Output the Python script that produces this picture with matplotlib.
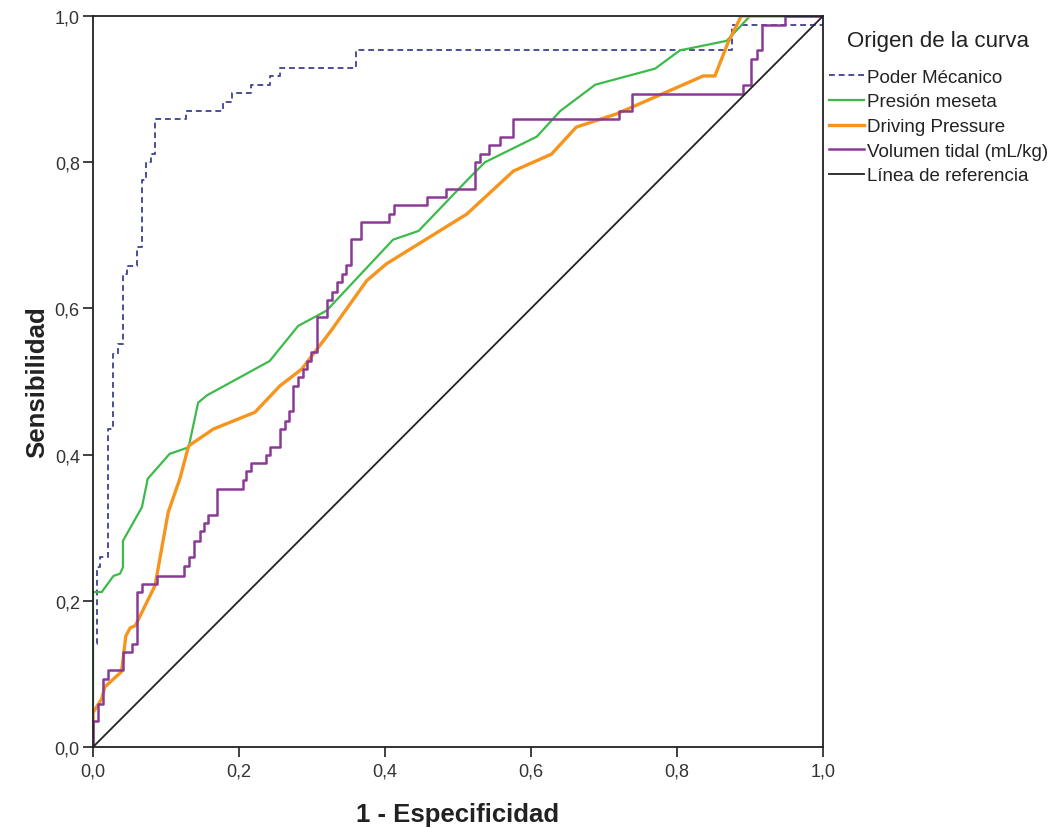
import matplotlib
matplotlib.use("Agg")
import matplotlib.pyplot as plt

plt.rcParams['font.family'] = ['Liberation Sans', 'DejaVu Sans']

# curve points (1 - especificidad, sensibilidad)
poder_x = [0, 0, 0.005, 0.005, 0.009, 0.009, 0.021, 0.021, 0.028, 0.028, 0.034, 0.034, 0.041, 0.041,
           0.046, 0.046, 0.060, 0.060, 0.067, 0.067, 0.073, 0.073, 0.080, 0.080, 0.085, 0.085, 0.127,
           0.127, 0.178, 0.178, 0.191, 0.191, 0.217, 0.217, 0.242, 0.242, 0.256, 0.256, 0.360, 0.360,
           0.875, 0.875, 1.0, 1.0]
poder_y = [0, 0.141, 0.141, 0.246, 0.246, 0.260, 0.260, 0.435, 0.435, 0.538, 0.538, 0.551, 0.551, 0.647,
           0.647, 0.658, 0.658, 0.684, 0.684, 0.775, 0.775, 0.800, 0.800, 0.811, 0.811, 0.859, 0.859,
           0.870, 0.870, 0.883, 0.883, 0.894, 0.894, 0.906, 0.906, 0.918, 0.918, 0.929, 0.929, 0.953,
           0.953, 0.988, 0.988, 1.0]

meseta_x = [0, 0, 0.012, 0.028, 0.037, 0.041, 0.041, 0.067, 0.075, 0.105, 0.131, 0.144, 0.156, 0.242,
            0.281, 0.320, 0.411, 0.446, 0.516, 0.537, 0.608, 0.640, 0.688, 0.770, 0.804, 0.868, 0.900, 1.0]
meseta_y = [0, 0.212, 0.212, 0.234, 0.237, 0.246, 0.282, 0.328, 0.367, 0.401, 0.410, 0.471, 0.481, 0.528,
            0.576, 0.597, 0.694, 0.706, 0.779, 0.800, 0.835, 0.870, 0.906, 0.928, 0.953, 0.966, 1.0, 1.0]

driving_x = [0, 0, 0.012, 0.016, 0.039, 0.045, 0.051, 0.058, 0.085, 0.103, 0.119, 0.131, 0.165, 0.222,
             0.256, 0.286, 0.325, 0.375, 0.402, 0.512, 0.576, 0.628, 0.662, 0.717, 0.836, 0.852, 0.870,
             0.888, 1.0]
driving_y = [0, 0.047, 0.066, 0.082, 0.103, 0.152, 0.163, 0.166, 0.221, 0.321, 0.367, 0.412, 0.435, 0.458,
             0.494, 0.517, 0.568, 0.638, 0.661, 0.729, 0.788, 0.811, 0.848, 0.866, 0.918, 0.918, 0.964,
             1.0, 1.0]

# volumen tidal: staircase corners (x where a step up happens, new level)
vt_steps_x = [0, 0.007, 0.014, 0.021, 0.041, 0.053, 0.060, 0.067, 0.087, 0.125, 0.132, 0.139, 0.146,
              0.152, 0.158, 0.170, 0.205, 0.210, 0.217, 0.237, 0.243, 0.256, 0.263, 0.269, 0.274, 0.281,
              0.287, 0.293, 0.299, 0.307, 0.320, 0.327, 0.334, 0.341, 0.347, 0.353, 0.367, 0.406, 0.413,
              0.458, 0.484, 0.523, 0.530, 0.543, 0.557, 0.576, 0.720, 0.739, 0.890, 0.902, 0.909, 0.916,
              0.948]
vt_steps_y = [0.036, 0.059, 0.093, 0.105, 0.130, 0.141, 0.212, 0.223, 0.234, 0.247, 0.260, 0.282, 0.295,
              0.306, 0.318, 0.353, 0.365, 0.377, 0.388, 0.400, 0.411, 0.435, 0.446, 0.459, 0.494, 0.506,
              0.517, 0.528, 0.541, 0.588, 0.611, 0.623, 0.636, 0.647, 0.660, 0.695, 0.718, 0.729, 0.741,
              0.753, 0.764, 0.800, 0.811, 0.823, 0.835, 0.859, 0.870, 0.893, 0.906, 0.941, 0.953, 0.988,
              1.0]

ticks = [0, 0.2, 0.4, 0.6, 0.8, 1.0]
tick_labels = ['0,0', '0,2', '0,4', '0,6', '0,8', '1,0']


def staircase(xs, ys):
    px, py = [0], [0]
    for x, y in zip(xs, ys):
        px += [x, x]
        py += [py[-1], y]
    px.append(1.0)
    py.append(py[-1])
    return px, py


fig = plt.figure(figsize=(10.58, 8.29), dpi=100)
ax = fig.add_axes([0.0879, 0.0977, 0.690, 0.8818])

vt_x, vt_y = staircase(vt_steps_x, vt_steps_y)

ax.plot(poder_x, poder_y, color='#4a4f9a', lw=1.4, ls=(0, (3, 2)), label='Poder Mécanico')
ax.plot(meseta_x, meseta_y, color='#3cba4a', lw=1.6, label='Presión meseta')
ax.plot(driving_x, driving_y, color='#f7941d', lw=2.4, label='Driving Pressure')
ax.plot(vt_x, vt_y, color='#8a3a95', lw=1.8, label='Volumen tidal (mL/kg)')
ax.plot([0, 1], [0, 1], color='#222222', lw=1.3, label='Línea de referencia')

ax.set_xlim(0, 1)
ax.set_ylim(0, 1)
ax.set_xticks(ticks)
ax.set_xticklabels(tick_labels)
ax.set_yticks(ticks)
ax.set_yticklabels(tick_labels)
ax.tick_params(direction='out', length=7.5, width=1.3, labelsize=13, colors='#333333', pad=2)
ax.tick_params(axis='x', pad=4)
for s in ax.spines.values():
    s.set_linewidth(1.3)
    s.set_color('#222222')

ax.set_xlabel('1 - Especificidad', fontsize=18.5, fontweight='bold', labelpad=16, color='#222222')
ax.set_ylabel('Sensibilidad', fontsize=18.5, fontweight='bold', labelpad=4, color='#222222')

leg = ax.legend(loc='upper left', bbox_to_anchor=(1.0, 0.989), frameon=False, fontsize=13.5,
                title='Origen de la curva', title_fontsize=16, handlelength=1.9,
                handletextpad=0.15, labelspacing=0.40, borderaxespad=0.1, borderpad=0.2)
leg._legend_box.sep = 13
for t in leg.get_texts():
    t.set_color('#222222')
leg.get_title().set_color('#222222')

fig.savefig('out.png', dpi=100)
